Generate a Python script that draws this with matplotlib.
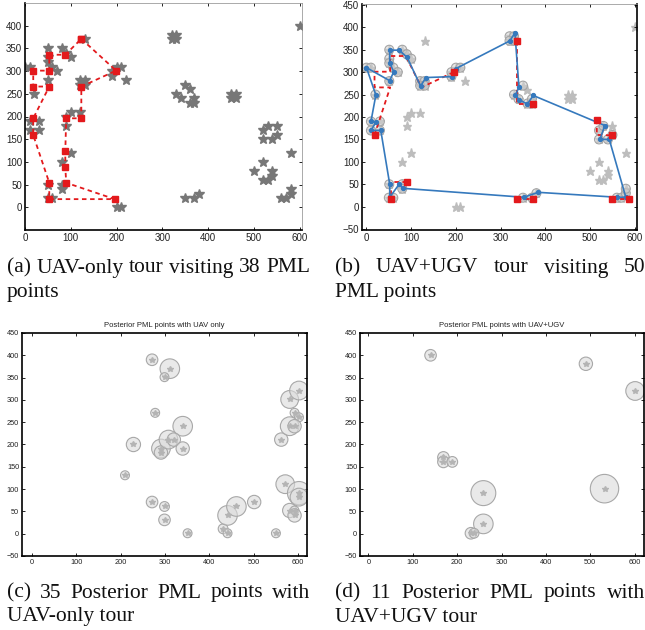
import matplotlib
matplotlib.use("Agg")
import matplotlib.pyplot as plt
from matplotlib.patches import Circle

# ---- all PML points (candidate set) ----
pml_x = [600,
         320, 330, 320, 330,
         350, 360, 330, 340, 360, 370, 370,
         450, 460, 450, 460,
         520, 530, 550, 520, 540, 550,
         520, 500, 520, 530, 540, 540, 580, 580, 580, 560, 570,
         350, 370, 380,
         200, 210,
         0, 10, 51, 80, 90, 100, 51, 51, 60, 70, 51, 20, 130,
         120, 130, 120, 130, 190, 190, 200, 210, 220,
         10, 30, 10, 30,
         90, 100, 120, 90, 100, 80, 80, 80, 50, 50, 60]
pml_y = [400,
         380, 380, 370, 370,
         270, 260, 250, 240, 230, 240, 230,
         250, 250, 240, 240,
         170, 180, 180, 150, 150, 160,
         100, 80, 60, 60, 80, 70, 120, 40, 30, 20, 20,
         20, 20, 30,
         0, 0,
         310, 310, 350, 350, 340, 330, 330, 320, 310, 300, 280, 250, 370,
         280, 280, 270, 270, 290, 300, 310, 310, 280,
         190, 190, 170, 170,
         200, 210, 210, 180, 120, 100, 50, 40, 50, 20, 20]

# ---- (a) UAV-only tour ----
uav_tour_x = [123, 199, 123, 123, 90, 88, 88, 90, 196, 53, 53, 18, 18, 53, 18, 18, 53, 53, 88, 123]
uav_tour_y = [371, 301, 266, 196, 196, 123, 89, 54, 18, 18, 54, 159, 196, 266, 266, 301, 301, 336, 336, 371]

# ---- (b) UAV+UGV ----
visited_x = [0, 10, 20, 10, 30, 10, 30, 51, 80, 90, 100, 51, 51, 60, 70, 51,
             120, 130, 120, 130, 190, 190, 200, 210, 51, 50, 60, 80, 80,
             320, 330, 320, 330, 330, 340, 350, 360, 370, 370, 350, 370, 380,
             520, 530, 520, 540, 550, 560, 570, 580, 580]
visited_y = [310, 310, 250, 190, 190, 170, 170, 350, 350, 340, 330, 330, 320, 310, 300, 280,
             280, 280, 270, 270, 290, 300, 310, 310, 50, 20, 20, 50, 40,
             380, 380, 370, 370, 250, 240, 270, 230, 230, 240, 20, 20, 30,
             170, 180, 150, 150, 160, 20, 20, 30, 40]

uav_x = [0, 21, 10, 21, 10, 32, 52, 52, 73, 81, 352, 384, 561, 580, 543, 522, 533,
         373, 360, 342, 333, 341, 332, 321, 200, 191, 133, 121, 91, 73, 52, 52, 61, 52, 0]
uav_y = [310, 249, 190, 188, 170, 170, 50, 21, 50, 41, 21, 32, 21, 21, 150, 150, 181,
         248, 229, 238, 249, 266, 388, 370, 308, 290, 288, 269, 333, 349, 349, 320, 301, 281, 310]

ugv_x = [18, 195, 337, 373, 515, 550, 586, 549, 373, 337, 90, 54]
ugv_y = [160, 300, 370, 229, 194, 159, 18, 18, 18, 18, 54, 18]

sortie_xs = [[195, 123, 88, 53, 53, 18, 18, 53, 18],
             [337, 337, 373],
             [515, 515, 550],
             [549, 586],
             [337, 373],
             [90, 54, 54]]
sortie_ys = [[300, 266, 336, 336, 301, 301, 266, 266, 160],
             [370, 229, 229],
             [194, 160, 159],
             [18, 18],
             [18, 18],
             [54, 54, 18]]

# ---- (c) posterior PML points, UAV only ----
post_uav_x = [271, 311, 299, 278, 340, 229, 291, 291, 308, 320, 340, 210, 271, 299, 299,
              351, 431, 441, 441, 461, 501, 550, 562, 581, 602, 592, 602, 581, 592,
              571, 602, 602, 581, 592, 592]
post_uav_y = [390, 370, 351, 271, 241, 200, 191, 182, 211, 211, 191, 131, 71, 61, 31,
              1, 11, 1, 41, 61, 71, 1, 211, 301, 321, 271, 261, 241, 241,
              111, 91, 82, 52, 52, 41]
post_uav_r = [13, 22, 10, 10, 22, 16, 21, 15, 21, 15, 15, 10, 13, 11, 13,
              10, 11, 10, 22, 22, 15, 10, 15, 20, 21, 10, 10, 21, 15,
              21, 26, 20, 16, 10, 15]

# ---- (d) posterior PML points, UAV+UGV ----
post_ugv_x = [140, 169, 169, 189, 259, 259, 231, 238, 490, 601, 532]
post_ugv_y = [400, 171, 161, 161, 91, 22, 1, 1, 381, 320, 101]
post_ugv_r = [13, 13, 13, 12, 28, 22, 13, 11, 15, 21, 32]

RED = "#e3191c"
BLUE = "#3579bd"
TICK_FONT = "Liberation Sans"
CAP_FONT = "Liberation Serif"

W, H = 645, 630
fig = plt.figure(figsize=(W / 100, H / 100), dpi=100)


def px_axes(left, top, right, bottom):
    return fig.add_axes([left / W, 1 - bottom / H, (right - left) / W, (bottom - top) / H])


def style_axes(ax, fs, thin_top_right=False, thin_top=False):
    ax.tick_params(direction="in", length=2.5, width=0.6, labelsize=fs, pad=2,
                   top=True, right=True)
    for lab in ax.get_xticklabels() + ax.get_yticklabels():
        lab.set_fontfamily(TICK_FONT)
        lab.set_color("#222222")
    for s in ax.spines.values():
        s.set_linewidth(1.2)
        s.set_color("black")
    if thin_top_right:
        ax.spines["top"].set_linewidth(0.5)
        ax.spines["top"].set_color("#888888")
        ax.spines["right"].set_linewidth(0.5)
        ax.spines["right"].set_color("#888888")
    if thin_top:
        ax.spines["top"].set_linewidth(0.5)
        ax.spines["top"].set_color("#888888")


# (a) UAV-only tour
ax1 = px_axes(25, 3, 302, 230)
ax1.plot(pml_x, pml_y, "*", color="#777777", ms=7, mec="#777777", zorder=2)
ax1.plot(uav_tour_x, uav_tour_y, "--s", color=RED, lw=1.3, ms=4.8,
         dashes=(2.5, 2), mfc=RED, mec=RED, zorder=3)
ax1.set_xlim(0, 605)
ax1.set_ylim(-50, 450)
ax1.set_xticks(range(0, 601, 100))
ax1.set_yticks(range(0, 401, 50))
style_axes(ax1, 7, thin_top_right=True)

# (b) UAV+UGV tour
ax2 = px_axes(362, 4, 637, 230)
ax2.plot(pml_x, pml_y, "*", color="#bdbdbd", ms=6.5, mec="#bdbdbd", zorder=1)
for cx, cy in zip(visited_x, visited_y):
    ax2.add_patch(Circle((cx, cy), 10, fc=(0.82, 0.82, 0.82, 0.5), ec="#a5a5a5",
                         lw=0.8, zorder=2))
for sx, sy in zip(sortie_xs, sortie_ys):
    ax2.plot(sx, sy, "--", color=RED, lw=1.3, dashes=(2.5, 2), zorder=3)
ax2.plot(uav_x, uav_y, "-o", color=BLUE, lw=1.2, ms=2.8, zorder=4)
ax2.plot(ugv_x, ugv_y, "s", color=RED, ms=5, zorder=5)
ax2.set_xlim(-10, 605)
ax2.set_ylim(-52, 452)
ax2.set_xticks(range(0, 601, 100))
ax2.set_yticks(range(-50, 451, 50))
style_axes(ax2, 7, thin_top=True)


def posterior(ax, xs, ys, rs, title):
    for cx, cy, r in zip(xs, ys, rs):
        ax.add_patch(Circle((cx, cy), r, fc=(0.86, 0.86, 0.86, 0.6), ec="#a8a8a8",
                            lw=0.8, zorder=2))
    ax.plot(xs, ys, "*", color="#b4b4b4", ms=4, mec="#b4b4b4", zorder=3)
    ax.set_ylim(-50, 450)
    ax.set_xticks(range(0, 601, 100))
    ax.set_yticks(range(-50, 451, 50))
    ax.set_title(title, fontsize=5.5, fontfamily=TICK_FONT, pad=4, color="#222222")
    style_axes(ax, 5.3)


# (c) posterior with UAV only
ax3 = px_axes(22, 333, 307, 556)
ax3.set_xlim(-22, 620)
posterior(ax3, post_uav_x, post_uav_y, post_uav_r, "Posterior PML points with UAV only")

# (d) posterior with UAV+UGV
ax4 = px_axes(360, 333, 644, 556)
ax4.set_xlim(-19, 621)
posterior(ax4, post_ugv_x, post_ugv_y, post_ugv_r, "Posterior PML points with UAV+UGV")

# ---- captions (justified first lines) ----
renderer = fig.canvas.get_renderer()
CAP_SIZE = 15.5


def justified(words, x0, x1, ypx):
    texts = [fig.text(0, 1 - ypx / H, w, fontsize=CAP_SIZE, fontfamily=CAP_FONT,
                      va="center", ha="left", color="#111111") for w in words]
    widths = [t.get_window_extent(renderer).width for t in texts]
    gap = (x1 - x0 - sum(widths)) / (len(words) - 1)
    x = x0
    for t, w in zip(texts, widths):
        t.set_x(x / W)
        x += w + gap


def plain(s, x0, ypx):
    fig.text(x0 / W, 1 - ypx / H, s, fontsize=CAP_SIZE, fontfamily=CAP_FONT,
             va="center", ha="left", color="#111111")


justified("(a) UAV-only tour visiting 38 PML".split(), 7, 310, 268)
plain("points", 7, 292)
justified("(b) UAV+UGV tour visiting 50".split(), 335, 645, 268)
plain("PML points", 335, 292)
justified("(c) 35 Posterior PML points with".split(), 7, 310, 593)
plain("UAV-only tour", 7, 617)
justified("(d) 11 Posterior PML points with".split(), 335, 645, 593)
plain("UAV+UGV tour", 335, 617)

fig.savefig("out.png", dpi=100)
